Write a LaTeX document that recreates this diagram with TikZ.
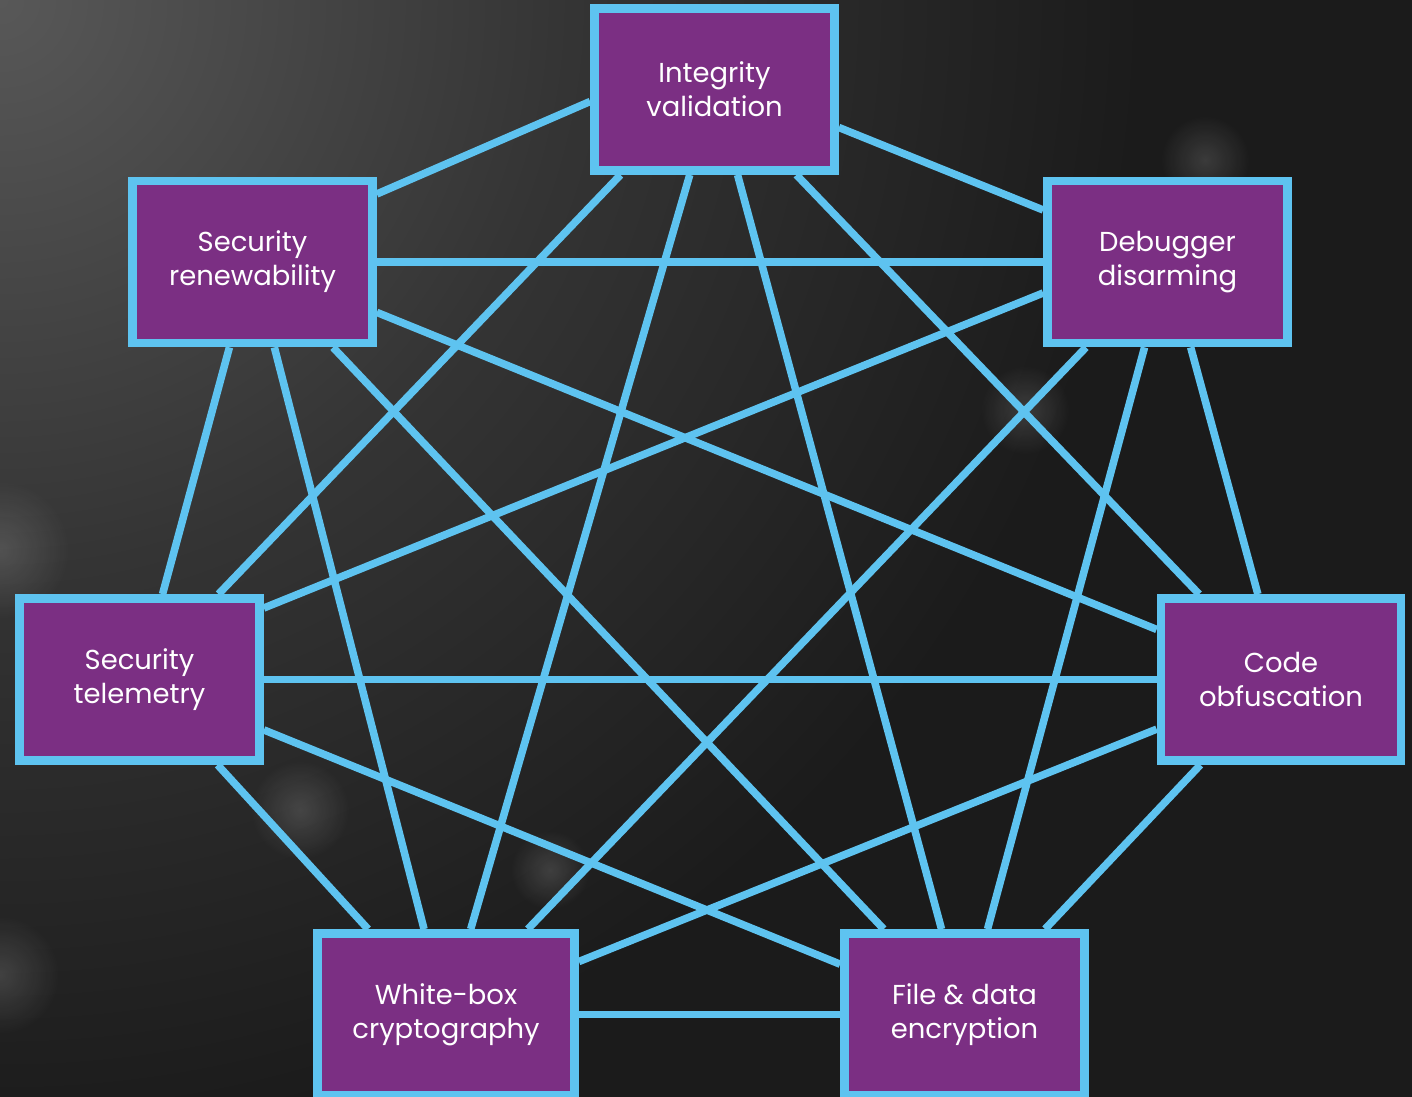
\documentclass[tikz,border=0pt]{standalone}
\usepackage{fontspec}
\setmainfont{Poppins}
\usetikzlibrary{calc,backgrounds,fadings}

\definecolor{plum}{RGB}{123,47,131}
\definecolor{skyline}{RGB}{94,195,240}
\definecolor{bgA}{RGB}{88,88,88}
\definecolor{bgB}{RGB}{52,52,52}
\definecolor{bgC}{RGB}{27,27,27}
\pgfdeclareradialshading{glow}{\pgfpoint{0bp}{0bp}}{color(0bp)=(bgA); color(11bp)=(bgB); color(22bp)=(bgC); color(25bp)=(bgC); color(50bp)=(bgC)}
\tikzfading[name=spotfade, inner color=transparent!0, outer color=transparent!100]

\tikzset{
  feature/.style={draw=skyline, line width=5pt, fill=plum, text=white, align=center,
    minimum width=4.8cm, minimum height=3.24cm, inner sep=0pt,
    font=\fontsize{15.6}{19.3}\selectfont},
  link/.style={skyline, line width=4.3pt},
}

\begin{document}
\begin{tikzpicture}[x=0.02cm,y=-0.02cm]
    \useasboundingbox (0,0) rectangle (1412,1097);

    % the seven features
    \node[feature] (iv) at (714.5,89.5) {Integrity\\validation};
    \node[feature] (sr) at (252.5,262) {Security\\renewability};
    \node[feature] (dd) at (1167.5,262) {Debugger\\disarming};
    \node[feature] (st) at (139.5,679.5) {Security\\telemetry};
    \node[feature] (co) at (1281,679.5) {Code\\obfuscation};
    \node[feature, minimum width=5.14cm] (wb) at (446,1014.5) {White-box\\cryptography};
    \node[feature] (fd) at (964.5,1014.5) {File \& data\\encryption};

    \begin{scope}[on background layer]
        % backdrop
        \fill[bgC] (0,0) rectangle (1412,1097);
        \begin{scope}
            \clip (0,0) rectangle (1412,1097);
            \shade[shading=glow] (0,0) circle (1300);
            \foreach \x/\y/\r in {1205/160/45, 1025/410/45, 300/810/50, 550/870/40, 0/550/70, 0/975/60}
                \fill[white, opacity=0.14, path fading=spotfade] (\x,\y) circle (\r);
        \end{scope}

        % every feature is linked to every other
        \draw[link] ($(iv.west)+(0,12)$) -- ($(sr.east)+(0,-68)$);
        \draw[link] ($(iv.east)+(0,38)$) -- ($(dd.west)+(0,-52)$);
        \draw[link] ($(iv.south)+(-94,0)$) -- ($(st.north)+(79,0)$);
        \draw[link] ($(dd.west)+(0,31)$) -- ($(st.east)+(0,-71.5)$);
        \foreach \a/\b in {iv/co, iv/wb, iv/fd, sr/dd, sr/st, sr/co, sr/wb, sr/fd,
                           dd/co, dd/wb, dd/fd, st/co, st/wb, st/fd, co/wb, co/fd, wb/fd}
            \draw[link] (\a) -- (\b);
    \end{scope}
\end{tikzpicture}
\end{document}
